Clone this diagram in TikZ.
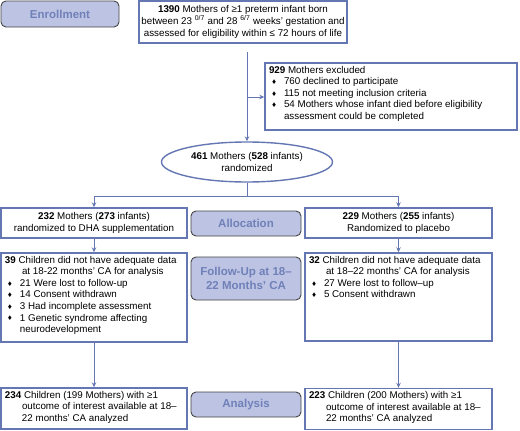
\documentclass[tikz,border=0pt]{standalone}
\usepackage{fontspec}
\setmainfont{Liberation Sans}
\usetikzlibrary{shapes.geometric,arrows.meta}
\definecolor{boxblue}{HTML}{6577B3}
\definecolor{labfill}{HTML}{BCC3E3}
\definecolor{labtext}{HTML}{7080B8}
\definecolor{labedge}{HTML}{454545}
\newcommand{\bul}{\hspace*{3pt}\makebox[12pt][l]{\raisebox{0.3pt}{\fontsize{8}{8}\selectfont ♦}}}
\newcommand{\boxtext}[3]{\parbox[c][#2][t]{#1}{\begin{tabular}{@{}l@{}}#3\end{tabular}}}
\tikzset{
    every node/.style={font=\fontsize{9.8}{11.6}\selectfont},
    flowbox/.style={draw=boxblue, line width=1.4pt, inner sep=0pt, align=center},
    listbox/.style={draw=boxblue, line width=1.4pt, inner xsep=4pt, inner ysep=2pt},
    phase/.style={draw=labedge, line width=0.9pt, fill=labfill, rounded corners=5pt,
        text=labtext, inner sep=0pt, align=center,
        font=\fontsize{11.5}{14}\selectfont\bfseries},
    conn/.style={draw=boxblue, line width=1pt},
    >={Stealth[length=5pt,width=4.5pt]}
}
\begin{document}
\begin{tikzpicture}[x=1pt,y=-1pt]
    \pgfmathsetmacro{\xL}{94};
    \pgfmathsetmacro{\xM}{246};
    \pgfmathsetmacro{\xR}{398.5};
    \useasboundingbox (0,0) rectangle (520,431);
    % phase labels
    \node[phase, minimum width=118pt, minimum height=26pt] (enroll) at (60,14) {Enrollment};
    \node[phase, minimum width=110pt, minimum height=25pt] (alloc) at (\xM,223.5) {Allocation};
    \node[phase, minimum width=110pt, minimum height=43pt] (follow) at (\xM,278.5) {Follow-Up at 18–\\22 Months’ CA};
    \node[phase, minimum width=110pt, minimum height=25pt] (anal) at (\xM,404.5) {Analysis};
    % enrollment
    \node[flowbox, minimum width=208pt, minimum height=42pt] (screen) at (243,22)
        {\textbf{1390} Mothers of ≥1 preterm infant born\\
         between 23~\textsuperscript{0/7} and 28~\textsuperscript{6/7} weeks’ gestation and\\
         assessed for eligibility within ≤ 72 hours of life};
    \node[listbox] (excl) at (391,96.5)
        {\boxtext{244pt}{63pt}{\textbf{929} Mothers excluded\\
         \bul 760 declined to participate\\
         \bul 115 not meeting inclusion criteria\\
         \bul 54 Mothers whose infant died before eligibility\\
         \hspace*{15pt}assessment could be completed}};
    \node[ellipse, draw=boxblue, line width=1.4pt, minimum width=171pt, minimum height=40pt,
        inner sep=0pt, align=center] (rand) at (247,162)
        {\textbf{461} Mothers (\textbf{528} infants)\\randomized};
    % allocation
    \node[flowbox, minimum width=186pt, minimum height=30pt] (dha) at (\xL,223)
        {\textbf{232} Mothers (\textbf{273} infants)\\randomized to DHA supplementation};
    \node[flowbox, minimum width=187pt, minimum height=30pt] (plac) at (\xR,223)
        {\textbf{229} Mothers (\textbf{255} infants)\\Randomized to placebo};
    % follow-up
    \node[listbox] (fudha) at (\xL,297.5)
        {\boxtext{178pt}{85pt}{\textbf{39} Children did not have adequate data\\
         \hspace*{17pt}at 18-22 months’ CA for analysis\\
         \bul 21 Were lost to follow-up\\
         \bul 14 Consent withdrawn\\
         \bul 3 Had incomplete assessment\\
         \bul 1 Genetic syndrome affecting\\
         \hspace*{15pt}neurodevelopment}};
    \node[listbox] (fuplac) at (\xR,297)
        {\boxtext{179pt}{84pt}{\textbf{32} Children did not have adequate data\\
         \hspace*{17pt}at 18–22 months’ CA for analysis\\
         \bul 27 Were lost to follow–up\\
         \bul 5 Consent withdrawn}};
    % analysis
    \node[listbox] (andha) at (\xL,408.5)
        {\boxtext{178pt}{37pt}{\textbf{234} Children (199 Mothers) with ≥1\\
         \hspace*{17pt}outcome of interest available at 18–\\
         \hspace*{17pt}22 months’ CA analyzed}};
    \node[listbox] (anplac) at (\xR,409)
        {\boxtext{179pt}{37pt}{\textbf{223} Children (200 Mothers) with ≥1\\
         \hspace*{17pt}outcome of interest available at 18–\\
         \hspace*{17pt}22 months’ CA analyzed}};
    % connectors
    \coordinate (start) at (247,52);
    \coordinate (brk) at (247,97);
    \coordinate (split) at (247,196);
    \draw[conn, ->] (start) -- (rand.north);
    \draw[conn, ->] (brk) -- (brk -| excl.west);
    \draw[conn] (rand.south) -- (split);
    \draw[conn, ->] (split) -| (dha.north);
    \draw[conn, ->] (split) -| (plac.north);
    \draw[conn, ->] (dha.south) -- (fudha.north);
    \draw[conn, ->] (plac.south) -- (fuplac.north);
    \draw[conn, ->] (fudha.south) -- (andha.north);
    \draw[conn, ->] (fuplac.south) -- (anplac.north);
\end{tikzpicture}
\end{document}
